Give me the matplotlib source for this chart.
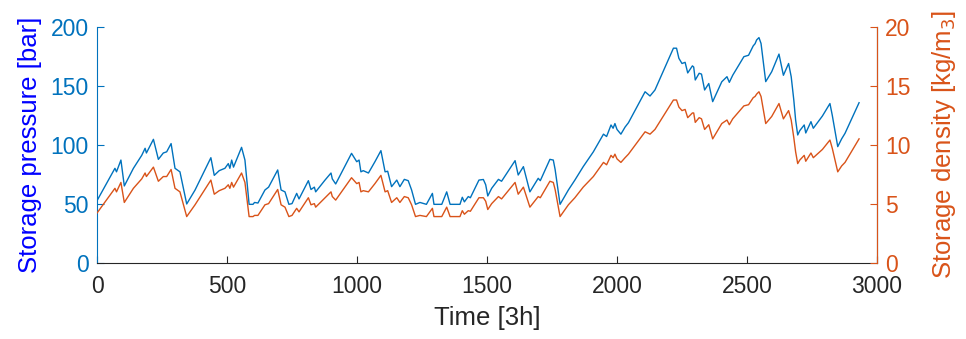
import matplotlib
matplotlib.use("Agg")
import matplotlib.pyplot as plt

plt.rcParams['font.family'] = ['Liberation Sans', 'DejaVu Sans']

time = [0, 69, 75, 92, 105, 140, 172, 185, 190, 217, 236, 255, 268, 285, 300, 319, 345,
        377, 438, 451, 470, 492, 505, 511, 518, 525, 556, 569, 585, 600, 606, 619, 625,
        646, 660, 695, 708, 723, 738, 750, 768, 777, 813, 823, 836, 841, 877, 900, 905,
        918, 979, 999, 1008, 1015, 1024, 1044, 1069, 1092, 1108, 1118, 1133, 1153, 1165,
        1182, 1197, 1210, 1225, 1242, 1267, 1290, 1296, 1326, 1345, 1358, 1396, 1405,
        1413, 1428, 1436, 1469, 1486, 1495, 1503, 1518, 1544, 1556, 1608, 1620, 1640,
        1665, 1697, 1705, 1742, 1755, 1762, 1781, 1813, 1838, 1870, 1909, 1948, 1960,
        1977, 1985, 1992, 2000, 2015, 2031, 2044, 2108, 2127, 2146, 2217, 2229, 2238,
        2250, 2262, 2272, 2290, 2295, 2301, 2316, 2325, 2337, 2353, 2368, 2403, 2423,
        2432, 2445, 2488, 2506, 2524, 2531, 2537, 2546, 2554, 2572, 2595, 2623, 2640,
        2660, 2670, 2680, 2687, 2695, 2703, 2720, 2726, 2746, 2755, 2790, 2819, 2828,
        2849, 2864, 2877, 2931]

pressure = [52.5, 80, 77, 87, 65, 80, 91, 97, 93, 104.6, 87.6, 93, 94, 101, 80, 77, 49.7,
            61.5, 89, 74, 78, 80, 84, 80, 87, 81, 97.8, 87, 49.4, 49.4, 51, 50.5, 53,
            61.6, 64, 78.6, 61.6, 60, 49.4, 50, 58.7, 54, 69.5, 62, 64, 60, 70, 76, 71,
            66.7, 92.7, 85.6, 87, 77, 78, 76, 85.6, 95, 77, 77.5, 64.4, 70, 64.4,
            70.6, 69.5, 61.6, 49.4, 51, 49.4, 58.7, 49.4, 49.4, 60, 49.4, 49.4, 55.4,
            51.5, 56, 55, 70, 70.5, 66, 56.5, 63, 70.6, 69, 86.5, 74.3, 81.4,
            60, 71.5, 69.5, 87.6, 87, 79, 49.4, 61.6, 70, 81.4, 94, 109, 107,
            116.8, 114, 118, 113, 109, 115, 118.7, 145, 141.4, 146.5, 182, 182, 173.4,
            169, 170, 161, 167, 166, 155, 160.7, 160, 146.5, 152, 136.6, 153.5, 157.8,
            153, 159, 174.8, 176, 184, 185.8, 189, 191, 186, 153.6, 162, 177, 159,
            169, 157.8, 138, 121, 108.3, 112, 116.8, 110, 119.6, 114, 124.4, 135, 125,
            98.4, 105, 109.7, 135.7]

density = [4.2, 6.3, 6.0, 6.8, 5.1, 6.3, 7.1, 7.6, 7.3, 8.1, 6.9, 7.3, 7.3, 7.9, 6.3, 6.0, 3.9,
           4.9, 7.0, 5.8, 6.1, 6.3, 6.6, 6.3, 6.8, 6.4, 7.6, 6.8, 3.9, 3.9, 4.0, 4.0, 4.2,
           4.9, 5.0, 6.2, 4.9, 4.7, 3.9, 4.0, 4.6, 4.3, 5.5, 4.9, 5.0, 4.7, 5.5, 6.0, 5.6,
           5.3, 7.2, 6.7, 6.8, 6.0, 6.1, 6.0, 6.7, 7.4, 6.0, 6.1, 5.1, 5.5, 5.1,
           5.6, 5.5, 4.9, 3.9, 4.0, 3.9, 4.6, 3.9, 3.9, 4.7, 3.9, 3.9, 4.4,
           4.1, 4.4, 4.35, 5.5, 5.5, 5.2, 4.5, 5.0, 5.6, 5.4, 6.8, 5.8, 6.4,
           4.7, 5.6, 5.5, 6.9, 6.8, 6.2, 3.9, 4.9, 5.5, 6.4, 7.3, 8.5, 8.3,
           9.1, 8.9, 9.2, 8.8, 8.5, 8.9, 9.2, 11.1, 10.9, 11.3, 13.8, 13.8, 13.2,
           12.9, 13.0, 12.3, 12.7, 12.7, 11.9, 12.3, 12.2, 11.3, 11.7, 10.5, 11.8, 12.1,
           11.7, 12.2, 13.3, 13.4, 14.0, 14.1, 14.3, 14.5, 14.1, 11.8, 12.4, 13.5, 12.2,
           12.9, 12.1, 10.6, 9.4, 8.4, 8.7, 9.1, 8.6, 9.3, 8.9, 9.6, 10.4, 9.7,
           7.7, 8.2, 8.5, 10.5]

x_ticks = [0, 500, 1000, 1500, 2000, 2500, 3000]
p_ticks = [0, 50, 100, 150, 200]
d_ticks = [0, 5, 10, 15, 20]

BLUE = '#0072BD'
ORANGE = '#D95319'
DARK = '#262626'

fig = plt.figure(figsize=(9.66, 3.39), dpi=100)
ax = fig.add_axes([97/966, 1-262.5/339, 780/966, 235.5/339])
ax2 = ax.twinx()

ax.plot(time, pressure, color=BLUE, lw=1.0)
ax2.plot(time, density, color=ORANGE, lw=1.0)

ax.set_xlim(0, 3000)
ax.set_ylim(0, 200)
ax2.set_ylim(0, 20)
ax.set_xticks(x_ticks)
ax.set_yticks(p_ticks)
ax2.set_yticks(d_ticks)

fs = 16.5
lfs = 18.5
ax.tick_params(axis='x', direction='in', length=5, width=0.8, colors=DARK, labelsize=fs, pad=9)
ax.tick_params(axis='y', direction='in', length=5, width=0.8, colors=BLUE, labelsize=fs, pad=6)
ax2.tick_params(axis='y', direction='in', length=5, width=0.8, colors=ORANGE, labelsize=fs, pad=6)

for a in (ax, ax2):
    a.spines['top'].set_visible(False)
ax.spines['bottom'].set_color(DARK)
ax.spines['left'].set_color(BLUE)
ax2.spines['left'].set_visible(False)
ax2.spines['bottom'].set_visible(False)
ax2.spines['right'].set_color(ORANGE)

ax.set_xlabel('Time [3h]', fontsize=lfs, color=DARK, labelpad=6)
ax.set_ylabel('Storage pressure [bar]', fontsize=lfs, color='#0000FF', labelpad=6)
ax2.set_ylabel('Storage density [kg/m$_3$]', fontsize=lfs, color=ORANGE, labelpad=14,
               rotation=90)

fig.savefig('out.png', dpi=100)
